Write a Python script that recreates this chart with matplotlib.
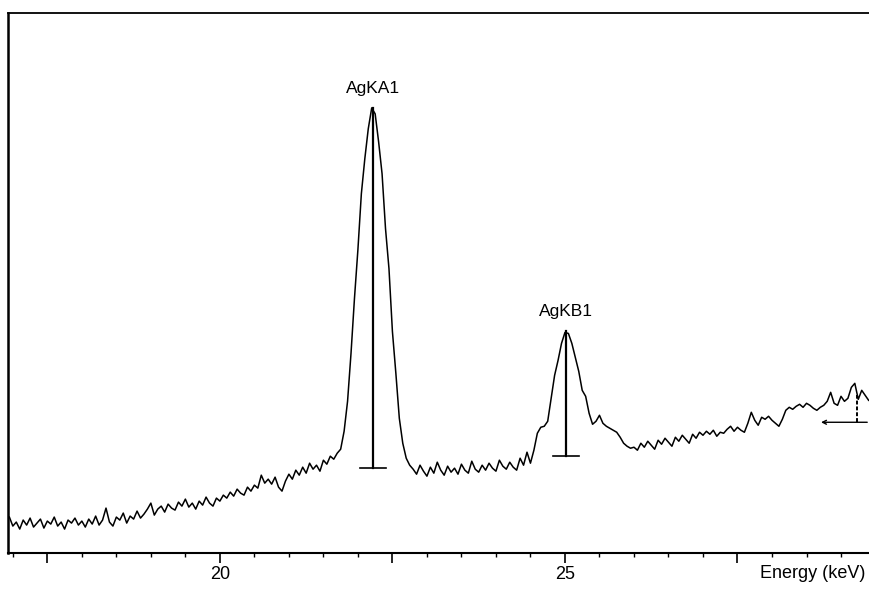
import numpy as np
import matplotlib
matplotlib.use('Agg')
import matplotlib.pyplot as plt
from matplotlib.ticker import FixedLocator, MultipleLocator

plt.rcParams['font.family'] = ['Liberation Sans', 'DejaVu Sans']

# spectrum counts, one value every 0.05 keV from 16.95 keV
counts = [
    # 16.95 - 17.95
    36, 27, 31, 24, 33, 28, 35, 26, 30, 34, 25, 32, 29, 36, 27, 31, 24, 33, 30, 35, 28,
    # 18.00 - 18.95
    32, 26, 34, 29, 37, 28, 33, 45, 31, 27, 36, 33, 40, 30, 37, 34, 42, 35, 39, 44,
    # 19.00 - 19.95
    50, 38, 44, 47, 41, 49, 45, 43, 51, 47, 54, 46, 50, 44, 52, 48, 56, 50, 47, 55,
    # 20.00 - 20.95
    52, 58, 55, 61, 57, 64, 60, 58, 66, 62, 68, 65, 78, 70, 74, 69, 76, 66, 62, 72,
    # 21.00 - 21.65
    79, 74, 83, 78, 86, 80, 90, 84, 88, 82, 93, 89, 97, 94,
    # 21.70 - 22.75 (AgKA1)
    100, 104, 122, 152, 200, 255, 304, 360, 395, 425, 446, 440, 412, 380, 325, 285,
    222, 180, 135, 110, 95, 88,
    # 22.80 - 24.40
    84, 79, 88, 82, 77, 86, 80, 91, 83, 78, 87, 81, 85, 79, 89, 83, 80, 92, 84, 81,
    88, 83, 90, 85, 82, 93, 87, 84, 91, 86, 83, 95, 88,
    # 24.45 - 26.00 (AgKB1)
    101, 90, 103, 120, 126, 127, 132, 155, 178, 193, 210, 221, 220, 210, 196, 182,
    163, 157, 140, 129, 132, 138, 130, 127, 125, 123, 121, 116, 110, 107, 105, 106,
    # 26.05 - 26.95
    103, 110, 106, 112, 108, 104, 113, 109, 115, 111, 107, 116, 112, 118, 114, 110, 119, 115, 121,
    # 27.00 - 27.95
    118, 122, 119, 123, 117, 121, 120, 124, 127, 122, 126, 123, 121, 130, 141, 133, 128, 136, 134, 137,
    # 28.00 - 28.95
    133, 130, 127, 134, 143, 146, 144, 147, 149, 146, 150, 148, 145, 143, 146, 148, 152, 161, 150, 148,
    # 29.00 - 29.40
    157, 152, 155, 166, 170, 154, 163, 158, 153,
]
energy = np.round(16.95 + 0.05 * np.arange(len(counts)), 2)

# peak markers
peak_names = ['AgKA1', 'AgKB1']
peak_energy = [22.22, 25.01]
peak_top = [446, 222]
peak_base = [85, 97]

# marker of a line just past the right edge
edge_energy = 29.23
edge_top = 158
edge_base = 131
edge_from = 28.67

major_ticks = [17.5, 20, 22.5, 25, 27.5]
tick_labels = ['', '20', '', '25', '']

fig = plt.figure(figsize=(8.7, 5.94), dpi=100)
ax = fig.add_axes([0.0092, 0.069, 0.9908, 0.909])

ax.plot(energy, counts, color='black', lw=1.1)

for name, e, top, base in zip(peak_names, peak_energy, peak_top, peak_base):
    ax.plot([e, e], [base, top], color='black', lw=1.6)
    ax.plot([e - 0.19, e + 0.19], [base, base], color='black', lw=1.2)
    ax.text(e, top + 12, name, ha='center', va='bottom', fontsize=12.5)

ax.plot([edge_energy, edge_energy], [edge_base, edge_top], color='black', lw=1.4, ls=(0, (2, 1)))
ax.annotate('', xy=(edge_from, edge_base), xytext=(29.42, edge_base),
            arrowprops=dict(arrowstyle='->', color='black', lw=1.0, mutation_scale=7))

ax.set_xlim(16.93, 29.42)
ax.set_ylim(0, 541)

ax.xaxis.set_major_locator(FixedLocator(major_ticks))
ax.xaxis.set_minor_locator(MultipleLocator(0.5))
ax.set_xticklabels(tick_labels)
ax.tick_params(axis='x', which='major', length=7, width=1.2, direction='out', labelsize=13, pad=2)
ax.tick_params(axis='x', which='minor', length=3, width=1.0, direction='out')
ax.set_yticks([])

ax.spines['left'].set_linewidth(1.8)
ax.spines['bottom'].set_linewidth(1.5)
ax.spines['top'].set_linewidth(1.3)
ax.spines['right'].set_visible(False)

fig.text(0.995, 0.02, 'Energy (keV)', ha='right', va='bottom', fontsize=13)

fig.savefig('out.png', dpi=100)
